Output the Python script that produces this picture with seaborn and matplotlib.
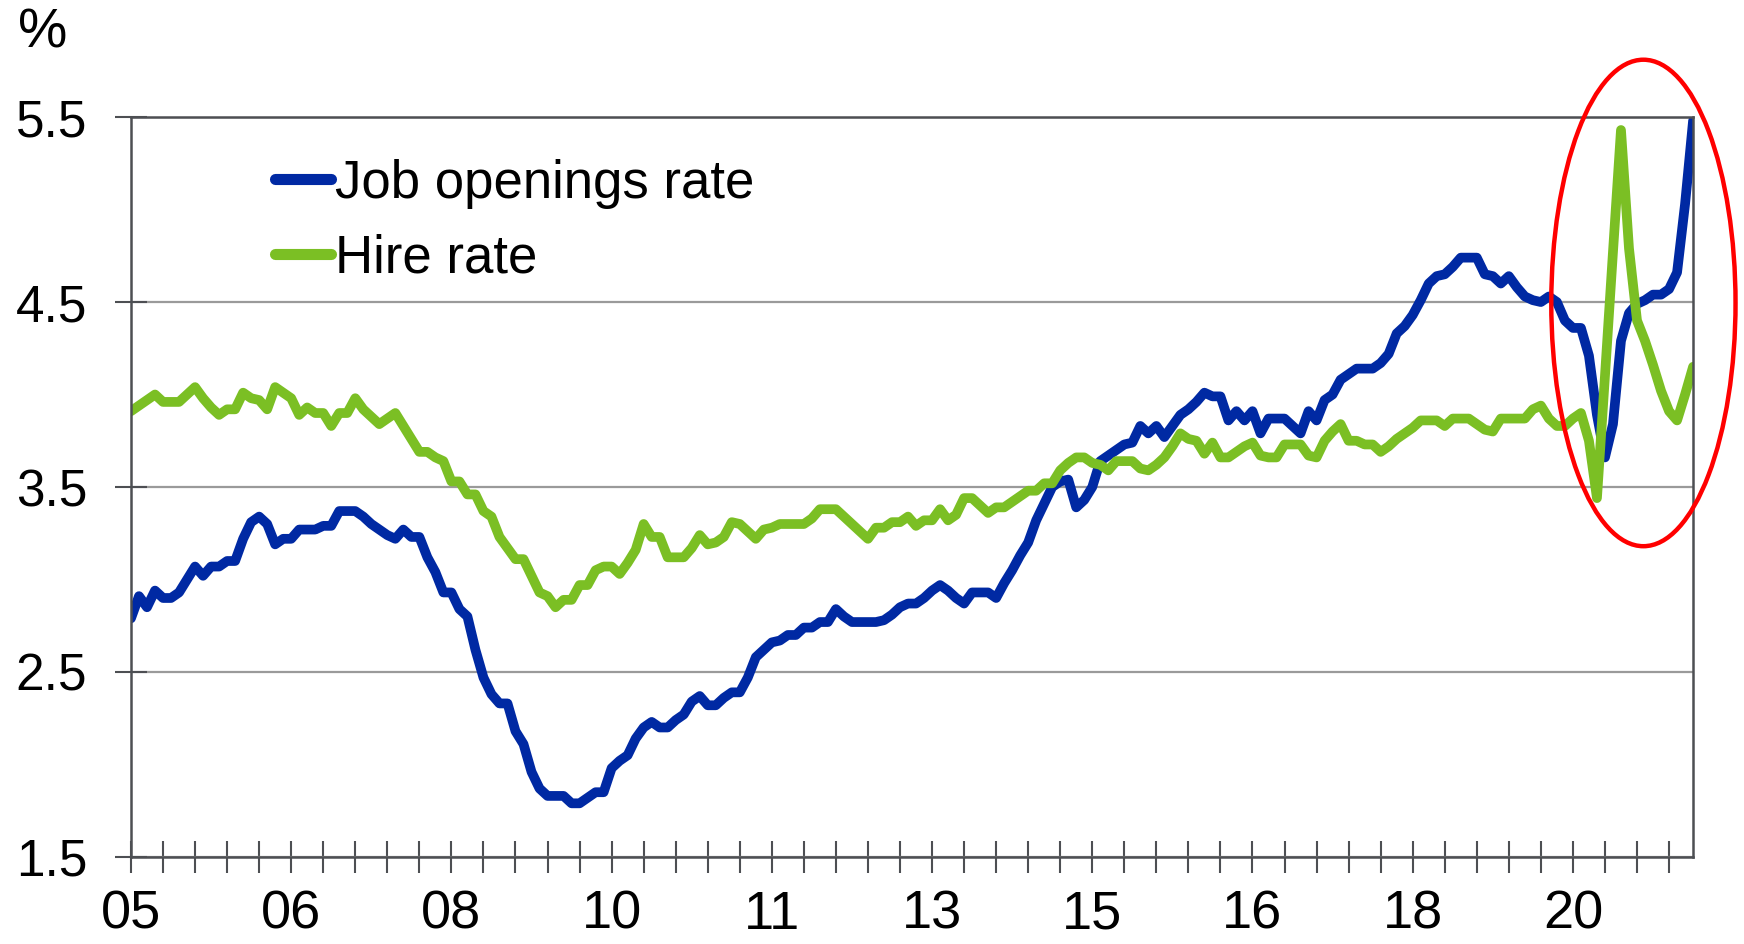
import numpy as np
import pandas as pd
import matplotlib
matplotlib.use("Agg")
import matplotlib.pyplot as plt
from matplotlib.patches import Ellipse
from matplotlib.lines import Line2D
import seaborn as sns

# Monthly data, Jan 2005 - Apr 2021 (%)
job_openings = [
    2.79, 2.91, 2.85, 2.94, 2.90, 2.90, 2.93, 3.00, 3.07, 3.02,
    3.07, 3.07, 3.10, 3.10, 3.22, 3.31, 3.34, 3.30, 3.19, 3.22,
    3.22, 3.27, 3.27, 3.27, 3.29, 3.29, 3.37, 3.37, 3.37, 3.34,
    3.30, 3.27, 3.24, 3.22, 3.27, 3.23, 3.23, 3.12, 3.04, 2.93,
    2.93, 2.84, 2.80, 2.62, 2.47, 2.38, 2.33, 2.33, 2.18, 2.11,
    1.96, 1.87, 1.83, 1.83, 1.83, 1.79, 1.79, 1.82, 1.85, 1.85,
    1.98, 2.02, 2.05, 2.14, 2.20, 2.23, 2.20, 2.20, 2.24, 2.27,
    2.34, 2.37, 2.32, 2.32, 2.36, 2.39, 2.39, 2.47, 2.58, 2.62,
    2.66, 2.67, 2.70, 2.70, 2.74, 2.74, 2.77, 2.77, 2.84, 2.80,
    2.77, 2.77, 2.77, 2.77, 2.78, 2.81, 2.85, 2.87, 2.87, 2.90,
    2.94, 2.97, 2.94, 2.90, 2.87, 2.93, 2.93, 2.93, 2.90, 2.98,
    3.05, 3.13, 3.20, 3.32, 3.41, 3.50, 3.53, 3.54, 3.39, 3.43,
    3.50, 3.64, 3.67, 3.70, 3.73, 3.74, 3.83, 3.79, 3.83, 3.77,
    3.83, 3.89, 3.92, 3.96, 4.01, 3.99, 3.99, 3.86, 3.91, 3.86,
    3.91, 3.79, 3.87, 3.87, 3.87, 3.83, 3.79, 3.91, 3.86, 3.97,
    4.00, 4.08, 4.11, 4.14, 4.14, 4.14, 4.17, 4.22, 4.33, 4.37,
    4.43, 4.51, 4.60, 4.64, 4.65, 4.69, 4.74, 4.74, 4.74, 4.65,
    4.64, 4.60, 4.64, 4.58, 4.53, 4.51, 4.50, 4.53, 4.50, 4.40,
    4.36, 4.36, 4.21, 3.89, 3.66, 3.84, 4.29, 4.44, 4.49, 4.51,
    4.54, 4.54, 4.57, 4.66, 5.03, 5.48,
]
hire_rate = [
    3.91, 3.94, 3.97, 4.00, 3.96, 3.96, 3.96, 4.00, 4.04, 3.98,
    3.93, 3.89, 3.92, 3.92, 4.01, 3.98, 3.97, 3.92, 4.04, 4.01,
    3.98, 3.89, 3.93, 3.90, 3.90, 3.83, 3.90, 3.90, 3.98, 3.92,
    3.88, 3.84, 3.87, 3.90, 3.83, 3.76, 3.69, 3.69, 3.66, 3.64,
    3.53, 3.53, 3.46, 3.46, 3.37, 3.34, 3.23, 3.17, 3.11, 3.11,
    3.02, 2.93, 2.91, 2.85, 2.89, 2.89, 2.97, 2.97, 3.05, 3.07,
    3.07, 3.03, 3.09, 3.16, 3.30, 3.23, 3.23, 3.12, 3.12, 3.12,
    3.17, 3.24, 3.19, 3.20, 3.23, 3.31, 3.30, 3.26, 3.22, 3.27,
    3.28, 3.30, 3.30, 3.30, 3.30, 3.33, 3.38, 3.38, 3.38, 3.34,
    3.30, 3.26, 3.22, 3.28, 3.28, 3.31, 3.31, 3.34, 3.29, 3.32,
    3.32, 3.38, 3.32, 3.35, 3.44, 3.44, 3.40, 3.36, 3.39, 3.39,
    3.42, 3.45, 3.48, 3.48, 3.52, 3.52, 3.59, 3.63, 3.66, 3.66,
    3.63, 3.62, 3.59, 3.64, 3.64, 3.64, 3.60, 3.59, 3.62, 3.66,
    3.72, 3.79, 3.76, 3.75, 3.68, 3.74, 3.66, 3.66, 3.69, 3.72,
    3.74, 3.67, 3.66, 3.66, 3.73, 3.73, 3.73, 3.67, 3.66, 3.75,
    3.80, 3.84, 3.75, 3.75, 3.73, 3.73, 3.69, 3.72, 3.76, 3.79,
    3.82, 3.86, 3.86, 3.86, 3.83, 3.87, 3.87, 3.87, 3.84, 3.81,
    3.80, 3.87, 3.87, 3.87, 3.87, 3.92, 3.94, 3.87, 3.83, 3.83,
    3.87, 3.90, 3.75, 3.44, 4.10, 4.77, 5.43, 4.79, 4.40, 4.29,
    4.16, 4.02, 3.91, 3.86, 4.00, 4.15,
]
tick_labels = ["05", "06", "08", "10", "11", "13", "15", "16", "18", "20"]
y_ticks = [1.5, 2.5, 3.5, 4.5, 5.5]

months = pd.date_range("2005-01-01", periods=len(job_openings), freq="MS")
df = pd.DataFrame({
    "idx": np.arange(len(months)),
    "Job openings rate": job_openings,
    "Hire rate": hire_rate,
})
long_df = df.melt(id_vars="idx", var_name="series", value_name="rate")

blue = "#0029a3"
green = "#7bbf24"
gray = "#4d4f53"

sns.set_style("white")
plt.rcParams["font.family"] = ["Liberation Sans", "DejaVu Sans"]
plt.rcParams["text.color"] = "black"

fig = plt.figure(figsize=(17.44, 9.44), dpi=100)
ax = fig.add_axes([0.0751, 0.0922, 0.8957, 0.7838])

sns.lineplot(data=long_df, x="idx", y="rate", hue="series",
             palette={"Job openings rate": blue, "Hire rate": green},
             linewidth=7, ax=ax, legend=False)

# axes look
ax.set_xlim(0, len(months) - 1)
ax.set_ylim(1.5, 5.5)
ax.set_yticks(y_ticks)
ax.set_yticklabels([f"{t:.1f}" for t in y_ticks])
xt = np.arange(0, len(months), 4)
ax.set_xticks(xt)
ax.set_xticklabels([tick_labels[k // 5] if k % 5 == 0 else "" for k in range(len(xt))])
ax.set_xlabel("")
ax.set_ylabel("")
ax.yaxis.grid(True, color="#9a9a9a", linewidth=1.6)
ax.set_axisbelow(True)
for s in ax.spines.values():
    s.set_color(gray)
    s.set_linewidth(1.8)
ax.tick_params(axis="both", direction="inout", length=23, width=1.5,
               color=gray, labelcolor="black", bottom=True, left=True)
ax.tick_params(axis="y", pad=20, labelsize=37)
ax.tick_params(axis="x", pad=12, labelsize=39)

# legend
handles = [Line2D([], [], color=blue, lw=8, solid_capstyle="round"),
           Line2D([], [], color=green, lw=8, solid_capstyle="round")]
ax.legend(handles, ["Job openings rate", "Hire rate"], loc="upper left",
          bbox_to_anchor=(0.079, 0.972), frameon=False, fontsize=38,
          handlelength=1.05, handletextpad=0.08, labelspacing=0.47,
          borderaxespad=0, labelcolor="black")

# highlight of the 2020 swing
ax.add_patch(Ellipse((188.8, 4.495), 23.0, 2.63, fill=False, edgecolor="red",
                     linewidth=3.2, clip_on=False, zorder=5))

fig.text(0.0105, 0.992, "%", fontsize=40, va="top", ha="left")

fig.savefig("out.png", dpi=100)
